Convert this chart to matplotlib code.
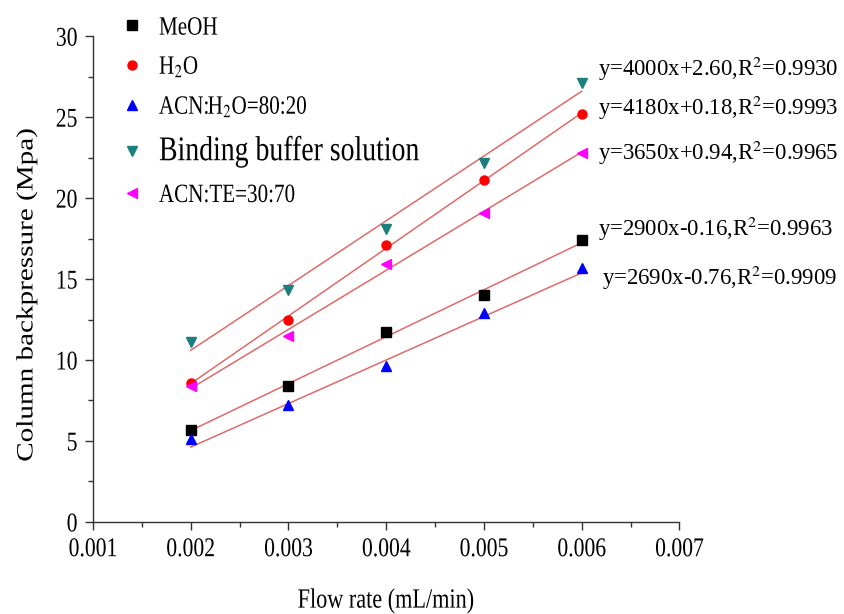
import numpy as np
import matplotlib
matplotlib.use("Agg")
import matplotlib.pyplot as plt
from matplotlib.ticker import MultipleLocator, FormatStrFormatter
from matplotlib.patheffects import AbstractPathEffect
from matplotlib.transforms import Affine2D

plt.rcParams['font.family'] = ['Liberation Serif', 'DejaVu Serif']
plt.rcParams['mathtext.fontset'] = 'stix'

flow = [0.002, 0.003, 0.004, 0.005, 0.006]

meoh = [5.7, 8.4, 11.7, 14.0, 17.4]
water = [8.6, 12.5, 17.1, 21.1, 25.2]
acn_water = [5.1, 7.2, 9.6, 12.9, 15.7]
buffer_sol = [11.1, 14.3, 18.1, 22.2, 27.1]
acn_te = [8.4, 11.5, 15.9, 19.1, 22.8]

labels = ['MeOH', 'H$_2$O', 'ACN:H$_2$O=80:20', 'Binding buffer solution', 'ACN:TE=30:70']

# linear fit for each solvent: slope, intercept, R^2
slopes = [2900, 4180, 2690, 4000, 3650]
intercepts = [-0.16, 0.18, -0.76, 2.60, 0.94]
r2 = ['0.9963', '0.9993', '0.9909', '0.9930', '0.9965']
eq_x = [0.00617, 0.00617, 0.00621, 0.00617, 0.00617]
eq_y = [18.1, 25.6, 15.1, 28.0, 22.8]

series = [meoh, water, acn_water, buffer_sol, acn_te]
colors = ['black', '#ff0000', '#0000ff', '#1c7f7f', '#ff00ff']
markers = ['s', 'o', '^', 'v', '<']

SX = 0.8  # horizontal squeeze of the lettering


class Squeeze(AbstractPathEffect):
    """Narrow text glyphs horizontally around a fixed edge."""

    def __init__(self, sx=SX, anchor='left'):
        super().__init__()
        self.sx = sx
        self.anchor = anchor

    def draw_path(self, renderer, gc, tpath, affine, rgbFace=None):
        ext = tpath.get_extents(affine)
        if self.anchor == 'left':
            x0 = ext.x0
        elif self.anchor == 'right':
            x0 = ext.x1
        else:
            x0 = 0.5 * (ext.x0 + ext.x1)
        tr = affine + Affine2D().translate(-x0, 0).scale(self.sx, 1).translate(x0, 0)
        renderer.draw_path(gc, tpath, tr, rgbFace)


fig = plt.figure(figsize=(8.45, 6.14), dpi=100)
ax = fig.add_axes([0.110, 0.150, 0.694, 0.791])

xs = np.array([flow[0], flow[-1]])
for k in range(len(series)):
    ax.plot(flow, series[k], linestyle='none', marker=markers[k], color=colors[k],
            ms=6.5, label=labels[k], zorder=3)
    ax.plot(xs, slopes[k] * xs + intercepts[k], color='#e06a6a', lw=1.1, zorder=2)
    sign = '+' if intercepts[k] >= 0 else '-'
    eq = 'y=%dx%s%.2f,R$^2$=%s' % (slopes[k], sign, abs(intercepts[k]), r2[k])
    ax.text(eq_x[k], eq_y[k], eq, fontsize=16.4, va='center', ha='left', clip_on=False)

ax.set_xlim(0.001, 0.007)
ax.set_ylim(0, 30)
ax.xaxis.set_major_locator(MultipleLocator(0.001))
ax.xaxis.set_minor_locator(MultipleLocator(0.0005))
ax.xaxis.set_major_formatter(FormatStrFormatter('%.3f'))
ax.yaxis.set_major_locator(MultipleLocator(5))
ax.yaxis.set_minor_locator(MultipleLocator(2.5))

for side in ['top', 'right']:
    ax.spines[side].set_visible(False)
for side in ['left', 'bottom']:
    ax.spines[side].set_linewidth(1.0)
    ax.spines[side].set_color('#333333')
ax.tick_params(which='major', direction='out', length=6, width=1, labelsize=19.5,
               colors='#333333', labelcolor='black', pad=5)
ax.tick_params(which='minor', direction='out', length=3.5, width=1, colors='#333333')

ax.set_xlabel('Flow rate (mL/min)', fontsize=20, labelpad=19,
              path_effects=[Squeeze(anchor='center')])
ax.set_ylabel('Column backpressure (Mpa)', fontsize=21,
              path_effects=[Squeeze(anchor='center')])
ax.yaxis.set_label_coords(-0.090, 0.467)

leg = ax.legend(loc='upper left', bbox_to_anchor=(0.138, 0.978), bbox_transform=fig.transFigure,
                frameon=False, fontsize=19, borderpad=0.1, handletextpad=0.5,
                labelspacing=0.58, handlelength=1.0, borderaxespad=0)
for t in leg.get_texts():
    t.set_path_effects([Squeeze(anchor='left')])
leg.get_texts()[3].set_fontsize(25)

fig.canvas.draw()
for lbl in ax.get_xticklabels():
    lbl.set_path_effects([Squeeze(anchor='center')])
for lbl in ax.get_yticklabels():
    lbl.set_path_effects([Squeeze(anchor='right')])

fig.savefig('out.png', dpi=100)
